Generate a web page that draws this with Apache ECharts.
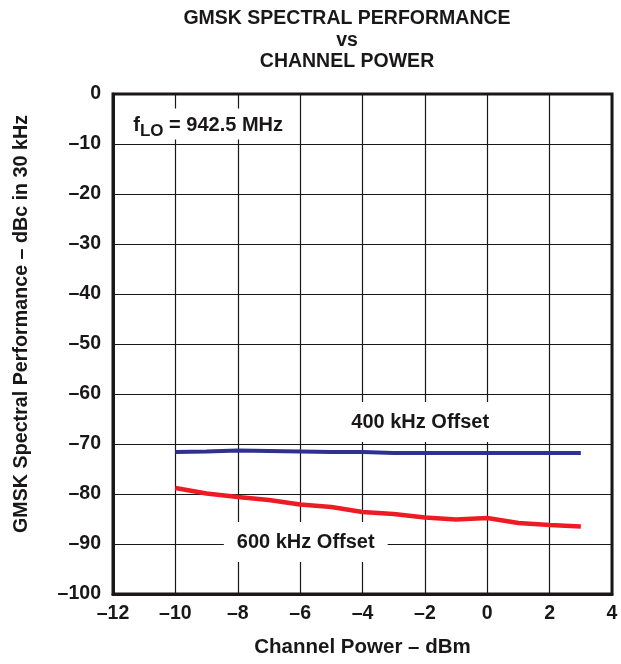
<!DOCTYPE html>
<html>
<head>
<meta charset="utf-8">
<script src="https://cdn.jsdelivr.net/npm/echarts@6/dist/echarts.min.js"></script>
<style>
html,body{margin:0;padding:0;background:#fff;}
#chart{width:621px;height:664px;}
</style>
</head>
<body>
<div id="chart"></div>
<script>
// ---- data ----
const titleLines = ['GMSK SPECTRAL PERFORMANCE', 'vs', 'CHANNEL POWER'];
const xTicks = [-12, -10, -8, -6, -4, -2, 0, 2, 4];
const yTicks = [0, -10, -20, -30, -40, -50, -60, -70, -80, -90, -100];
const channelPower = [-10, -9, -8, -7, -6, -5, -4, -3, -2, -1, 0, 1, 2, 3];
const offset400 = [-71.6, -71.5, -71.3, -71.4, -71.5, -71.6, -71.6, -71.8, -71.8, -71.8, -71.8, -71.8, -71.8, -71.8];
const offset600 = [-78.8, -79.9, -80.6, -81.2, -82.1, -82.6, -83.6, -84.0, -84.7, -85.1, -84.8, -85.8, -86.2, -86.5];
const labelTexts = ['400 kHz Offset', '600 kHz Offset', 'fLO = 942.5 MHz'];
const labelPos = [[-2.15, -65.6], [-5.82, -89.6], [-8.95, -6.0]];
const xAxisName = 'Channel Power – dBm';
const yAxisName = 'GMSK Spectral Performance – dBc in 30 kHz';

const FONT = '"Liberation Sans", Arial, Helvetica, sans-serif';
const INK = '#1a1718';
const fmt = v => (v < 0 ? '–' + Math.abs(v) : String(v));

const chart = echarts.init(document.getElementById('chart'), null, {renderer: 'canvas'});
const option = {
  backgroundColor: '#fff',
  animation: false,
  graphic: [
    {type: 'text', x: 347, y: 8, style: {
      text: titleLines.join('\n'), fill: INK, font: 'bold 19.5px ' + FONT,
      textAlign: 'center', lineHeight: 21.5}},
    {type: 'text', x: 22, y: 324, rotation: Math.PI / 2, style: {
      text: yAxisName, fill: INK, font: 'bold 19.7px ' + FONT,
      textAlign: 'center', textVerticalAlign: 'middle'}}
  ],
  grid: {left: 113, right: 9, top: 94, bottom: 70, show: true, borderColor: INK, borderWidth: 3, backgroundColor: 'transparent'},
  xAxis: {
    type: 'value', min: -12, max: 4, interval: 2,
    name: xAxisName, nameLocation: 'middle', nameGap: 43,
    nameTextStyle: {color: INK, fontSize: 20.5, fontWeight: 'bold', fontFamily: FONT},
    axisLine: {show: true, onZero: false, lineStyle: {color: INK, width: 3}},
    axisTick: {show: false},
    axisLabel: {color: INK, fontSize: 19.5, fontWeight: 'bold', fontFamily: FONT, margin: 10, formatter: fmt},
    splitLine: {show: true, lineStyle: {color: INK, width: 1.2}}
  },
  yAxis: {
    type: 'value', min: -100, max: 0, interval: 10,
    axisLine: {show: true, onZero: false, lineStyle: {color: INK, width: 3}},
    axisTick: {show: false},
    axisLabel: {color: INK, fontSize: 19.5, fontWeight: 'bold', fontFamily: FONT, margin: 12, formatter: fmt},
    splitLine: {show: true, lineStyle: {color: INK, width: 1.2}}
  },
  series: [
    {type: 'scatter', symbolSize: 0, silent: true, z: 3,
      itemStyle: {opacity: 1},
      data: labelPos.map((p, i) => ({value: p, name: labelTexts[i],
        label: i === 2 ? {padding: [2, 13, 0, 13]} : {}})),
      label: {show: true, position: 'inside', color: INK, opacity: 1, fontFamily: FONT, fontWeight: 'bold', fontSize: 20,
        backgroundColor: '#fff',
        formatter: p => p.dataIndex === 2 ? '{m|f}{s|LO}{m| = 942.5 MHz}' : p.name,
        padding: [10, 13],
        rich: {
          m: {fontSize: 20, fontWeight: 'bold', fontFamily: FONT, color: INK},
          s: {fontSize: 17, fontWeight: 'bold', fontFamily: FONT, color: INK, padding: [12, 0, 0, 0]}
        }
      }
    },
    {type: 'line', data: channelPower.map((x, i) => [x, offset400[i]]), showSymbol: false, z: 4,
      lineStyle: {color: '#2e3192', width: 4}},
    {type: 'line', data: channelPower.map((x, i) => [x, offset600[i]]), showSymbol: false, z: 4,
      lineStyle: {color: '#ed1c24', width: 4.5}}
  ]
};
chart.setOption(option);
</script>
</body>
</html>
